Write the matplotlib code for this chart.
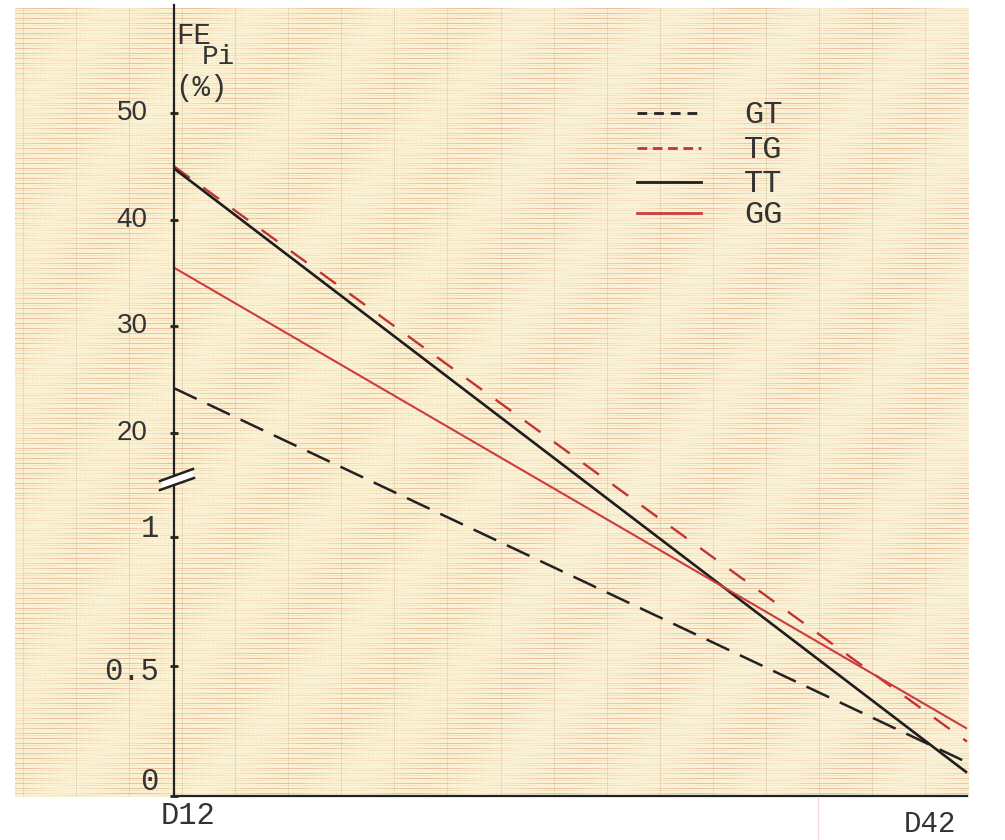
import numpy as np
import matplotlib
matplotlib.use("Agg")
import matplotlib.pyplot as plt
from matplotlib.lines import Line2D
from matplotlib.patches import Polygon

plt.rcParams['lines.scale_dashes'] = False

W, H = 1005, 840

# Dữ liệu: ngày đầu/cuối và giá trị FE_Pi (%) của từng kiểu gen
days = [12, 42]
day_labels = ["D12", "D42"]
genotypes = ["GT", "TG", "TT", "GG"]
fe_start = [24.2, 45.0, 44.8, 35.5]
fe_end = [0.13, 0.21, 0.09, 0.26]
upper_ticks = [20, 30, 40, 50]
lower_ticks = [0, 0.5, 1]
lower_tick_labels = ["0", "0.5", "1"]

colors = {"GT": "#222222", "TG": "#c23434", "TT": "#1e1e1e", "GG": "#cc3c3c"}
styles = {"GT": (0, (18, 8.5)), "TG": (0, (14, 12)), "TT": "-", "GG": "-"}
widths = {"GT": 1.8, "TG": 1.7, "TT": 1.9, "GG": 1.5}

# Trục y bị ngắt: 0-1.21 ở dưới, 15.4-60 ở trên (đơn vị: pixel từ đáy)
KV = [-10, 0, 1.21, 15.4, 100]
KP = [-2590, 0, 313.4, 313.93, 363 + 80 * 10.667]


def fwd(v):
    return np.interp(v, KV, KP)


def inv(p):
    return np.interp(p, KP, KV)


def fx(x):
    return x / W


def fy(y):
    return 1 - y / H


fig = plt.figure(figsize=(W / 100, H / 100), dpi=100, facecolor="white")

# Nền giấy kẻ ô
px0, px1, py0, py1 = 15, 968, 8, 797
pw, ph = px1 - px0, py1 - py0
bg = fig.add_axes([fx(px0), fy(py1), pw / W, ph / H], zorder=-1)
img = np.ones((ph, pw, 3)) * np.array([251, 243, 215]) / 255
cols = np.arange(pw)
for r in range(ph):
    if r % 5 == 0:
        w = 0.30 + 0.22 * np.sin(cols * 0.045 + r * 1.3)
        c = np.array([222, 140, 105]) / 255
    elif r % 5 == 2:
        w = 0.14 + 0.12 * np.sin(cols * 0.06 + r * 0.7)
        c = np.array([230, 170, 130]) / 255
    else:
        continue
    w = np.clip(w, 0, 1)
    img[r] = img[r] * (1 - w[:, None]) + c * w[:, None]
for cc in range(pw):
    if cc % 53 == 8:
        w, c = 0.35, np.array([200, 180, 135]) / 255
    elif cc % 4 == 1:
        w, c = 0.15, np.array([228, 220, 150]) / 255
    else:
        continue
    img[:, cc] = img[:, cc] * (1 - w) + c * w
bg.imshow(img, aspect="auto", interpolation="nearest")
bg.axis("off")

# Trục chính
ax = fig.add_axes([fx(174), fy(796), (967 - 174) / W, (796 - 5) / H])
ax.set_facecolor("none")
ax.set_yscale("function", functions=(fwd, inv))
ax.set_xlim(days[0], days[1])
ax.set_ylim(0, inv(791))
for s in ["top", "right"]:
    ax.spines[s].set_visible(False)
for s in ["left", "bottom"]:
    ax.spines[s].set_linewidth(1.6)
    ax.spines[s].set_color("#222222")
ax.set_xticks([])
ax.set_yticks(lower_ticks + upper_ticks)
ax.set_yticklabels([])
ax.tick_params(axis="y", direction="inout", length=6, width=2, color="#222222")

for g, a, b in zip(genotypes, fe_start, fe_end):
    ax.plot(days, [a, b], color=colors[g], linestyle=styles[g], lw=widths[g],
            solid_capstyle="butt", clip_on=False)

ytr = ax.get_yaxis_transform()
for v in upper_ticks:
    ax.annotate(str(v), (0, v), xycoords=ytr, xytext=(-19, 0), textcoords="offset points",
                ha="right", va="center", fontsize=20, family="Liberation Sans", color="#333333")
for v, t in zip(lower_ticks, lower_tick_labels):
    dy = 10 if v == 0 else (-4 if v == 0.5 else 6)
    ax.annotate(t, (0, v), xycoords=ytr, xytext=(-11, dy), textcoords="offset points",
                ha="right", va="center", fontsize=22, family="Liberation Mono", color="#333333")

fig.text(fx(188), fy(816), day_labels[0], ha="center", va="center", fontsize=22,
         family="Liberation Mono", color="#333333")
fig.text(fx(930), fy(824), day_labels[1], ha="center", va="center", fontsize=21,
         family="Liberation Mono", color="#333333")

fig.text(fx(176), fy(36), "FE", ha="left", va="center", fontsize=21, family="Liberation Mono", color="#333333")
fig.text(fx(202), fy(57), "Pi", ha="left", va="center", fontsize=20, family="Liberation Mono", color="#333333")
fig.text(fx(175), fy(88), "(%)", ha="left", va="center", fontsize=21, family="Liberation Mono", color="#333333")

# Ký hiệu ngắt trục
brk = [(162, 480), (192, 469), (193, 478), (162, 489)]
fig.add_artist(Polygon([(fx(x), fy(y)) for x, y in brk], closed=True, facecolor="white",
                       edgecolor="none", transform=fig.transFigure, zorder=5))
for (x0, y0), (x1, y1) in [((160, 481), (193, 469)), ((160, 490), (194, 478))]:
    fig.add_artist(Line2D([fx(x0), fx(x1)], [fy(y0), fy(y1)], color="#222222", lw=1.8,
                          transform=fig.transFigure, zorder=6))

# Chú thích
leg_y = [113, 148, 182, 213]
leg_styles = {"GT": (0, (7, 5)), "TG": (0, (7, 4)), "TT": "-", "GG": "-"}
for g, y in zip(genotypes, leg_y):
    fig.add_artist(Line2D([fx(637), fx(701)], [fy(y), fy(y)], color=colors[g],
                          linestyle=leg_styles[g], lw=2.0, transform=fig.transFigure))
    fig.text(fx(744), fy(y + 2), g, ha="left", va="center", fontsize=23,
             family="Liberation Mono", color="#333333")

# Vệt dọc mờ do scan
fig.add_artist(Line2D([fx(818), fx(818)], [fy(797), fy(840)], color="#eedcdc", lw=1,
                      transform=fig.transFigure))

fig.savefig("out.png", dpi=100, facecolor="white")
